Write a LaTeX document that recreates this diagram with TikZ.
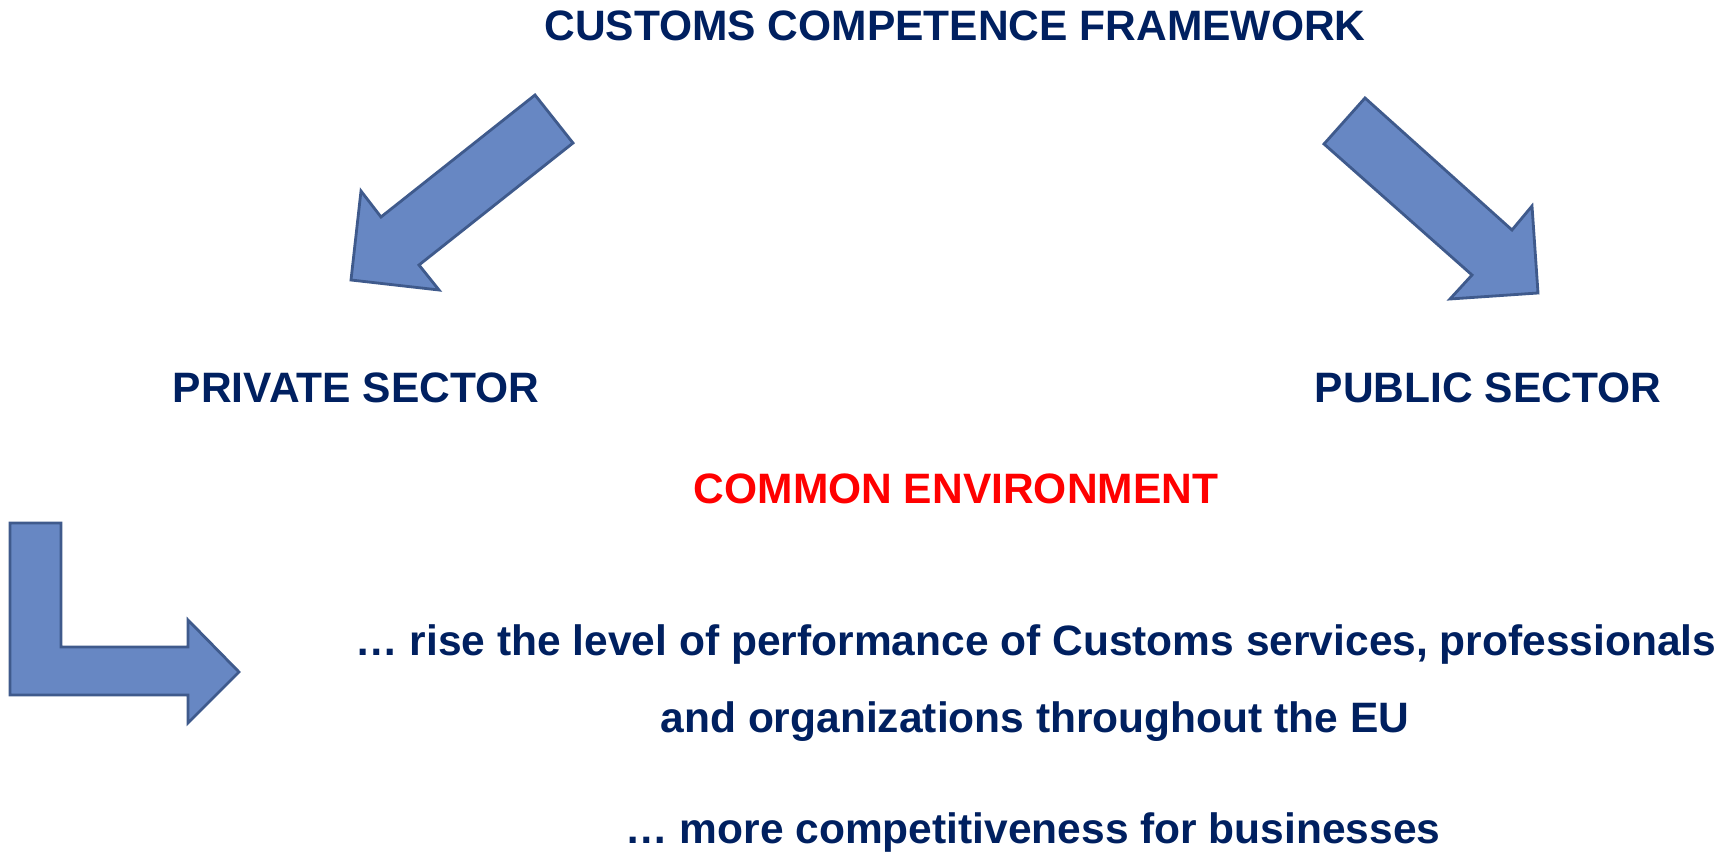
\documentclass[tikz,border=0pt]{standalone}
\usepackage{fontspec}
\setmainfont{Liberation Sans}
\usepackage{xcolor}
\usetikzlibrary{positioning}
\definecolor{navy}{HTML}{002060}
\definecolor{arrowfill}{HTML}{6787C3}
\definecolor{arrowedge}{HTML}{3F5A8C}

\begin{document}
\begin{tikzpicture}[x=0.02cm, y=-0.02cm,
    label/.style={text=navy, font=\fontsize{24.2}{29}\selectfont\bfseries, inner sep=0pt, anchor=center},
    blockarrow/.style={fill=arrowfill, draw=arrowedge, line width=1.6pt, line join=miter}]
    \useasboundingbox (0,0) rectangle (1724,855);

    % Title on top
    \node[label] (title) at (955,26) {CUSTOMS COMPETENCE FRAMEWORK};

    % The two sectors
    \node[label] (private) at (356,388) {PRIVATE SECTOR};
    \node[label] (public) at (1488,388) {PUBLIC SECTOR};

    % Common environment in red
    \node[label, text=red] (common) at (956,489) {COMMON ENVIRONMENT};

    % Outcomes
    \node[label] (rise) at (1036,645) {… rise the level of performance of Customs services, professionals};
    \node[label] (orgs) at (1035,722) {and organizations throughout the EU};
    \node[label] (business) at (1033,832) {… more competitiveness for businesses};

    % Block arrow towards the private sector
    \draw[blockarrow] (535,95) -- (573,143) -- (419,265) -- (439,290) -- (351,280)
        -- (361,191) -- (381,217) -- cycle;

    % Block arrow towards the public sector
    \draw[blockarrow] (1365,98) -- (1324,144) -- (1472,275) -- (1450,299) -- (1538,293)
        -- (1532,206) -- (1512,230) -- cycle;

    % Bent arrow pointing at the outcomes
    \draw[blockarrow] (10,523) -- (61,523) -- (61,647) -- (188,647) -- (188,620) -- (239,672)
        -- (188,723) -- (188,695) -- (10,695) -- cycle;
\end{tikzpicture}
\end{document}
